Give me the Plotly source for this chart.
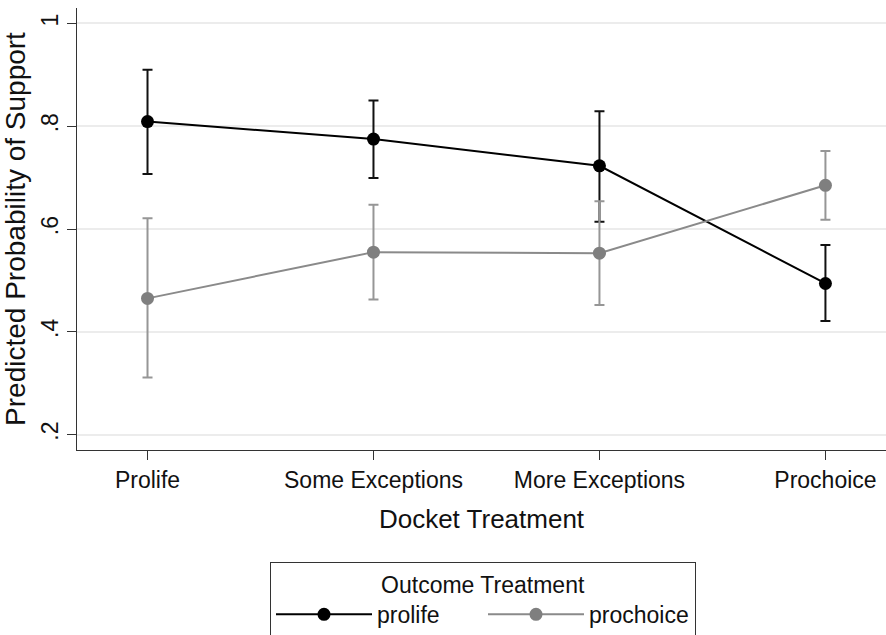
import plotly.graph_objects as go

# Docket treatment categories (x axis)
categories = ["Prolife", "Some Exceptions", "More Exceptions", "Prochoice"]

# Predicted probability of support with 95% CI, prolife outcome
prolife = [0.809, 0.775, 0.723, 0.494]
prolife_lo = [0.707, 0.699, 0.614, 0.421]
prolife_hi = [0.910, 0.850, 0.829, 0.569]

# Predicted probability of support with 95% CI, prochoice outcome
prochoice = [0.465, 0.555, 0.553, 0.685]
prochoice_lo = [0.311, 0.463, 0.452, 0.618]
prochoice_hi = [0.621, 0.647, 0.654, 0.752]

# y axis ticks
y_ticks = [0.2, 0.4, 0.6, 0.8, 1.0]
y_tick_labels = [".2", ".4", ".6", ".8", "1"]

FONT = "Liberation Sans, Arial, sans-serif"


def series(name, y, lo, hi, line_color, marker_color, bar_color):
    return go.Scatter(
        x=categories,
        y=y,
        name=name,
        mode="lines+markers",
        line=dict(color=line_color, width=2),
        marker=dict(color=marker_color, size=13),
        error_y=dict(
            type="data",
            symmetric=False,
            array=[h - v for h, v in zip(hi, y)],
            arrayminus=[v - l for v, l in zip(y, lo)],
            color=bar_color,
            thickness=2,
            width=5,
        ),
    )


fig = go.Figure()
fig.add_trace(series("prolife", prolife, prolife_lo, prolife_hi,
                     "#000000", "#000000", "#111111"))
fig.add_trace(series("prochoice", prochoice, prochoice_lo, prochoice_hi,
                     "#8a8a8a", "#7f7f7f", "#969696"))

fig.update_layout(
    width=886,
    height=635,
    paper_bgcolor="white",
    plot_bgcolor="white",
    font=dict(family=FONT, size=23, color="#111111"),
    margin=dict(l=77, r=0, t=8, b=185, autoexpand=False),
    legend=dict(
        orientation="h",
        xref="container",
        yref="container",
        x=270 / 886,
        xanchor="left",
        y=1 - 562 / 635,
        yanchor="top",
        bordercolor="#333333",
        borderwidth=1,
        bgcolor="white",
        itemwidth=96,
        entrywidth=101,
        font=dict(family=FONT, size=23, color="#111111"),
        title=dict(text="Outcome Treatment", side="top center",
                   font=dict(family=FONT, size=23, color="#111111")),
    ),
    xaxis=dict(
        type="category",
        range=[-0.312, 3.268],
        showline=True,
        linecolor="#333333",
        linewidth=1,
        ticks="outside",
        ticklen=9,
        tickcolor="#333333",
        showgrid=False,
        zeroline=False,
        tickfont=dict(size=23),
        title=dict(text="Docket Treatment", font=dict(size=26), standoff=18),
    ),
    yaxis=dict(
        range=[0.170, 1.030],
        tickvals=y_ticks,
        ticktext=y_tick_labels,
        tickangle=-90,
        showline=True,
        linecolor="#333333",
        linewidth=1,
        ticks="outside",
        ticklen=9,
        tickcolor="#333333",
        showgrid=True,
        gridcolor="#ececec",
        gridwidth=2,
        zeroline=False,
        tickfont=dict(size=23),
        title=dict(text="Predicted Probability of Support",
                   font=dict(size=28), standoff=6),
    ),
)

fig.write_html("out.html")
